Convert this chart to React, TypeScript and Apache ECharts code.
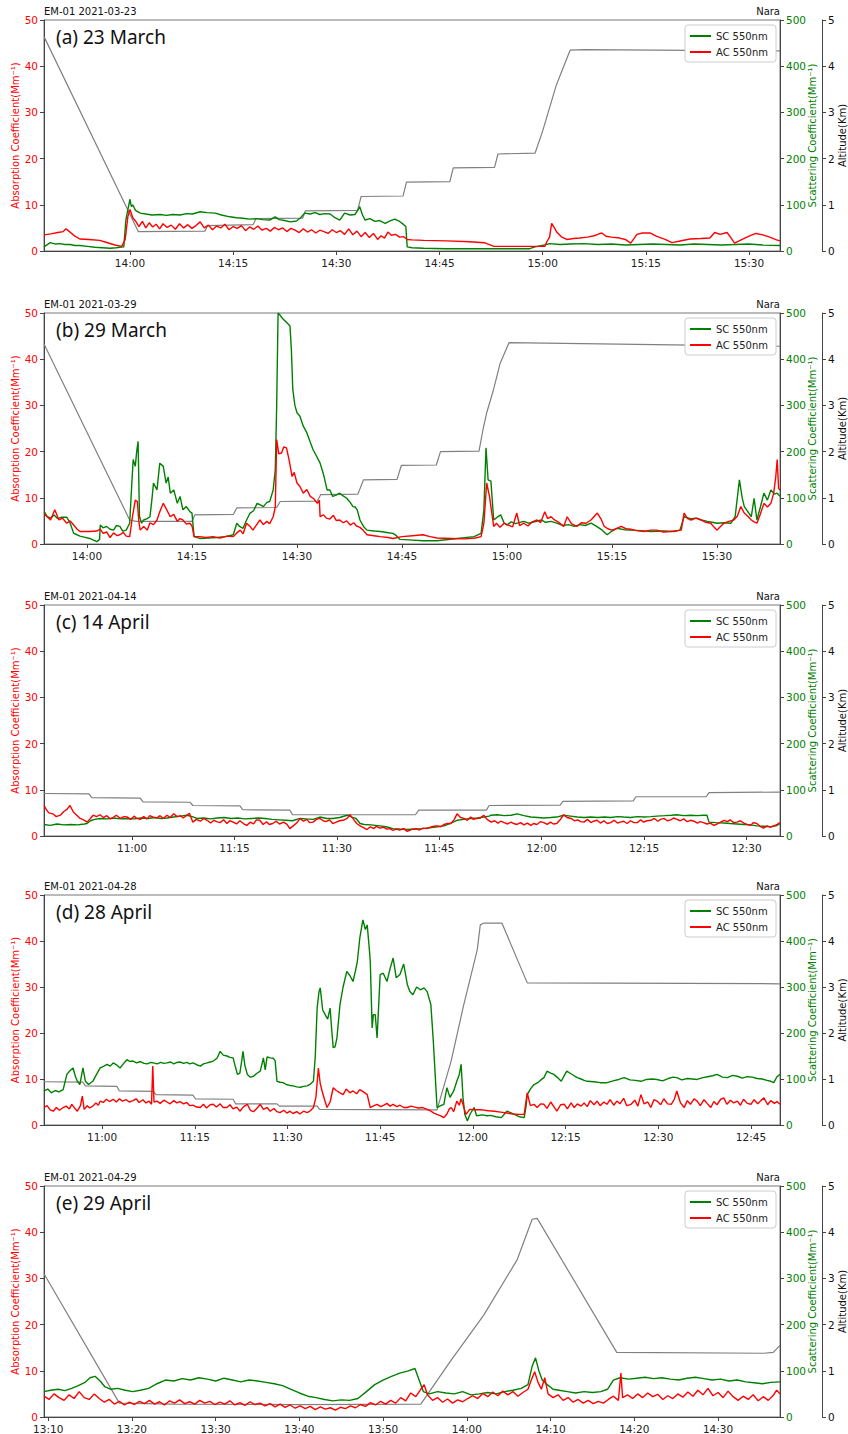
import React, { useEffect, useRef } from 'react';
import * as echarts from 'echarts';

// ---------- tick labels ----------
const aTicks = ['14:00', '14:15', '14:30', '14:45', '15:00', '15:15', '15:30'];
const bTicks = ['14:00', '14:15', '14:30', '14:45', '15:00', '15:15', '15:30'];
const cTicks = ['11:00', '11:15', '11:30', '11:45', '12:00', '12:15', '12:30'];
const dTicks = ['11:00', '11:15', '11:30', '11:45', '12:00', '12:15', '12:30', '12:45'];
const eTicks = ['13:10', '13:20', '13:30', '13:40', '13:50', '14:00', '14:10', '14:20', '14:30'];

// time spans: minutes past the base hour
const aSpan = [47.5, 154.5];
const bSpan = [53.86, 159];
const cSpan = [47.1, 154.9];
const dSpan = [50.6, 169.7];
const eSpan = [9.5, 97.4];

// ---------- panel (a) 23 March, base hour 13 ----------
const aAC = [[47.5,3.5],[48.5,3.7],[49.5,4.0],[50.3,4.2],[50.7,4.8],[51.2,4.2],[52,3.2],[52.7,2.6],[54,2.5],[55.6,2.3],[56.5,1.9],[57.8,1.3],[58.8,1.0],[59.3,2.5],[59.7,7.5],[60,9.0],[60.4,7.2],[60.8,6.5],[61.3,5.3],[61.8,6.4],[62.3,5.0],[62.8,6.1],[63.3,5.2],[63.8,5.8],[64.3,4.8],[64.8,5.9],[65.4,5.1],[66,5.6],[66.6,4.7],[67.2,5.9],[67.8,5.0],[68.4,5.7],[69,4.9],[69.6,5.5],[70.2,6.3],[70.8,5.0],[71.4,5.6],[72,4.6],[72.6,5.4],[73.2,5.0],[73.8,5.8],[74.4,4.6],[75,5.3],[75.6,4.9],[76.2,5.5],[76.8,4.4],[77.4,5.2],[78,4.7],[78.6,5.4],[79.2,4.5],[79.8,4.9],[80.4,4.3],[81,5.1],[81.6,4.6],[82.2,5.0],[82.8,4.2],[83.4,4.9],[84,4.5],[84.6,4.0],[85.2,4.8],[85.8,4.1],[86.4,4.6],[87,3.9],[87.6,4.5],[88.2,4.2],[88.8,3.8],[89.4,4.6],[90,4.0],[90.6,4.4],[91.2,3.6],[91.8,4.8],[92.4,3.5],[93,4.3],[93.6,3.1],[94.2,4.0],[94.8,2.9],[95.4,3.8],[96,2.5],[96.5,3.3],[97,2.8],[97.5,4.1],[98,3.4],[98.6,3.6],[99.2,3.0],[99.8,3.1],[100.3,2.5],[101,2.4],[102.7,2.3],[106,2.2],[109.4,2.0],[111.5,1.8],[112.9,1.0],[116,1.0],[120.3,1.0],[120.6,2.0],[121,3.0],[121.3,6.0],[121.7,5.0],[122.1,4.0],[122.8,3.0],[123.5,2.5],[124.5,2.7],[125.4,2.8],[126.5,3.0],[127.5,3.3],[128,3.6],[128.6,3.9],[129.2,3.2],[130,3.0],[131.2,2.8],[132,2.5],[132.8,1.7],[133.7,3.6],[134.5,3.9],[135.6,3.9],[136.5,3.2],[137.8,2.5],[138.8,1.8],[139.8,2.1],[141.4,2.6],[143,2.7],[144.3,2.8],[145,4.0],[145.8,3.6],[146.8,4.0],[147.3,3.0],[147.9,1.7],[149,2.5],[150,3.2],[151,3.8],[152,3.5],[153,3.0],[154,2.4],[154.5,2.2]];
const aSC = [[47.5,9],[48.4,18],[49.2,15],[49.8,16],[50.5,14],[51.3,14],[52,12],[52.7,12],[53.8,10],[54.9,8],[56,7],[57.1,6],[58,7],[58.5,8],[59.1,9],[59.4,67],[59.7,90],[60,112],[60.2,96],[60.4,100],[60.8,88],[61.5,82],[62.3,80],[63.2,78],[64.4,79],[65.3,77],[66.2,79],[67.3,78],[68.2,81],[69.1,80],[70.2,85],[71.2,83],[72.4,82],[73.3,78],[74.5,74],[75.5,72],[76.4,71],[77.4,69],[78.4,70],[79.3,68],[80.3,67],[81.1,74],[81.7,68],[82.5,66],[83.3,63],[84.2,65],[84.8,72],[85.4,82],[86.2,80],[86.9,83],[87.6,79],[88.3,81],[89.1,80],[89.8,72],[90.5,67],[91.2,82],[92,78],[92.7,79],[93.1,88],[93.4,96],[93.8,78],[94.2,67],[94.9,70],[95.6,64],[96.3,66],[97.1,60],[97.8,65],[98.5,69],[99.2,64],[99.8,57],[100.1,53],[100.3,9],[101,7],[102.7,6],[106,5],[110,5],[114,5],[118.1,5],[118.9,9],[120.3,13],[121,16],[122.5,14],[124,15],[126,16],[128,14],[130,15],[132,13],[134,14],[136,15],[138,14],[140,13],[142,15],[144,14],[146,13],[148,14],[150,15],[152,13],[154.5,12]];
const aAlt = [[47.5,4.64],[61.2,0.42],[70.9,0.43],[71.3,0.55],[77.9,0.57],[78.3,0.70],[85.1,0.71],[85.5,0.87],[93.1,0.88],[93.6,1.18],[99.7,1.19],[100.2,1.49],[106.5,1.5],[107,1.8],[113,1.81],[113.5,2.1],[118.9,2.12],[120,2.6],[122,3.6],[124,4.35],[126,4.36],[154.5,4.33]];

// ---------- panel (b) 29 March, base hour 13 ----------
const bAC = [[53.9,6.5],[54.3,5.9],[54.8,5.2],[55.4,7.4],[56,5.2],[56.5,5.6],[57.1,4.5],[57.6,5.0],[58.1,4.1],[58.6,3.2],[59,2.7],[60.4,2.7],[61.4,2.8],[61.9,3.2],[62.3,2.3],[62.8,2.6],[63.3,1.4],[63.8,2.4],[64.3,1.8],[64.7,2.0],[65.2,2.5],[65.6,1.7],[66.1,1.6],[66.5,6.0],[66.9,9.5],[67.2,9.2],[67.4,5.0],[67.6,3.0],[68.1,3.8],[68.6,3.0],[69,4.6],[69.5,4.2],[70,5.2],[70.4,7.0],[70.9,8.8],[71.4,7.4],[71.9,5.9],[72.4,6.4],[72.9,4.9],[73.3,5.5],[73.7,5.2],[74.2,4.3],[74.7,4.5],[75,3.9],[75.3,1.6],[76.1,1.6],[77,1.4],[78,1.6],[79,1.3],[80,1.7],[80.9,1.6],[81.4,2.4],[81.9,3.0],[82.3,2.2],[82.8,4.5],[83.3,3.8],[83.7,3.0],[84.2,4.1],[84.7,5.2],[85.2,4.2],[85.7,4.9],[86.1,4.4],[86.6,5.9],[86.9,8.0],[87.1,22.6],[87.4,19.5],[87.8,19.7],[88.1,21.0],[88.5,20.8],[88.9,18.0],[89.3,14.6],[89.6,15.5],[90,13.2],[90.4,12.5],[90.9,11.0],[91.4,11.8],[91.9,10.3],[92.4,9.8],[92.9,8.8],[93.2,9.5],[93.3,5.9],[93.8,6.3],[94.2,5.6],[94.7,5.4],[95.2,6.2],[95.6,5.1],[96.1,5.2],[96.6,4.6],[97.1,5.0],[97.6,4.1],[98.1,4.6],[98.5,3.9],[99,3.6],[99.5,2.9],[100,2.0],[101,1.8],[101.9,1.6],[103,1.4],[103.7,1.2],[105,1.6],[106.5,1.8],[108,2.0],[109,1.6],[110,1.3],[112,1.2],[114,1.1],[115.5,1.3],[116.3,1.6],[116.7,4.5],[117.1,13.2],[117.5,10.3],[118.1,3.8],[118.5,4.5],[119,3.6],[119.6,4.5],[120.2,4.1],[120.8,3.7],[121.4,6.7],[121.8,4.0],[122.4,4.5],[123,3.9],[123.6,4.8],[124.3,5.2],[124.8,4.6],[125.4,7.0],[125.8,5.5],[126.3,5.9],[126.8,5.2],[127.4,4.7],[128.1,3.8],[128.6,5.9],[129.2,4.4],[130,3.8],[130.6,4.6],[131.3,4.5],[132,5.2],[132.9,6.7],[133.4,5.5],[133.9,3.8],[134.4,3.3],[135,3.0],[135.7,3.4],[136.3,3.8],[137,3.3],[137.7,3.2],[138.5,2.9],[139.6,2.7],[140.5,3.0],[141.4,3.0],[142.3,2.6],[143.4,2.7],[144.3,2.9],[144.9,3.0],[145.3,6.7],[145.8,5.5],[146.3,5.2],[147,5.6],[147.7,5.2],[148.4,4.7],[149.1,4.5],[149.6,3.6],[150,3.0],[150.5,3.8],[151,4.5],[151.7,4.9],[152.4,5.2],[152.9,6.0],[153.4,8.1],[153.9,6.7],[154.4,6.0],[154.9,5.2],[155.3,4.8],[155.7,4.5],[156.2,6.5],[156.7,8.8],[157.2,8.0],[157.7,8.8],[158.1,11.0],[158.4,14.6],[158.6,18.3],[158.8,12.0],[159,11.7]];
const bSC = [[53.9,70],[54.3,60],[54.8,56],[55.3,63],[55.8,55],[56.4,58],[57.1,58],[57.6,45],[58.1,23],[58.6,20],[59,17],[59.6,15],[60.4,12],[61,8],[61.4,5],[61.8,10],[61.9,41],[62.3,35],[62.8,38],[63.3,32],[63.8,30],[64.2,40],[64.7,38],[65.1,28],[65.6,30],[66.1,45],[66.4,130],[66.6,183],[66.9,168],[67.1,200],[67.3,222],[67.5,60],[67.8,45],[68.1,52],[68.6,55],[69,59],[69.3,100],[69.5,132],[70,117],[70.4,175],[70.9,168],[71.3,132],[71.6,145],[71.9,110],[72.4,117],[72.9,88],[73.3,103],[73.7,74],[74.2,81],[74.7,70],[75,67],[75.3,16],[76.1,12],[77.3,13],[78.6,14],[79.8,16],[80.9,20],[81.4,45],[81.8,38],[82.3,34],[82.8,52],[83.3,67],[83.8,72],[84.3,88],[84.7,85],[85.2,81],[85.7,90],[86.1,92],[86.6,117],[86.9,161],[87.1,300],[87.3,500],[87.6,495],[88,487],[88.5,480],[89,472],[89.2,420],[89.4,335],[89.7,300],[90,284],[90.4,277],[90.9,255],[91.4,241],[91.9,220],[92.3,204],[92.8,190],[93.3,175],[93.8,150],[94.3,117],[94.7,117],[95.1,103],[95.6,106],[96.1,110],[96.6,104],[97.1,99],[97.6,90],[98,81],[98.3,80],[98.6,74],[99,52],[99.5,38],[100,30],[101,28],[101.9,27],[102.8,25],[103.7,23],[104.2,18],[104.7,10],[106,9],[108,7],[110,7],[112.9,12],[115.3,16],[116.3,23],[116.7,74],[117,208],[117.3,139],[117.7,136],[118.1,52],[118.6,58],[119.1,63],[119.6,45],[120,41],[120.6,48],[121.2,44],[122.4,49],[123.1,45],[124.9,52],[125.5,47],[126.3,49],[127.1,45],[128,40],[128.8,42],[129.6,38],[130.4,42],[131.2,40],[132,45],[132.8,38],[133.6,30],[134.3,20],[135,28],[135.7,34],[136.7,31],[137.7,30],[139.1,29],[140.6,27],[142.3,28],[143.9,27],[144.7,30],[145.3,59],[146.2,55],[147.1,56],[147.8,52],[148.6,49],[149.3,47],[150,45],[151,46],[152,45],[152.6,60],[153.2,139],[153.6,100],[153.9,81],[154.4,70],[154.9,59],[155.3,99],[155.7,52],[156.2,80],[156.7,110],[157.2,95],[157.7,117],[158.2,108],[158.6,110],[159,103]];
const bAlt = [[53.86,4.33],[66.1,0.52],[67,0.49],[75,0.49],[75.4,0.63],[80.9,0.64],[81.4,0.78],[87.1,0.79],[87.6,0.92],[92.9,0.93],[93.4,1.07],[98.7,1.08],[99.5,1.39],[104.3,1.4],[104.9,1.70],[109.9,1.71],[110.5,2.0],[116,2.01],[116.6,2.5],[117.1,2.84],[118,3.3],[119,3.9],[120.3,4.36],[159,4.28]];

// ---------- panel (c) 14 April, base hour 10 ----------
const cAC = [[47.1,6.6],[47.4,5.8],[47.8,5.0],[48.4,4.8],[48.9,4.2],[49.5,4.5],[50,5.3],[50.5,5.8],[50.9,6.6],[51.4,5.2],[51.9,4.5],[52.4,3.8],[52.9,3.5],[53.4,3.0],[53.9,3.8],[54.3,4.5],[54.8,4.2],[55.3,4.6],[55.8,4.0],[56.3,4.4],[56.8,3.7],[57.2,4.0],[57.7,4.5],[58.3,3.8],[58.8,4.2],[59.3,4.1],[59.8,3.6],[60.3,4.3],[60.7,3.8],[61.2,3.6],[61.7,4.2],[62.2,3.7],[62.6,4.4],[63.1,4.1],[63.6,3.9],[64.1,4.4],[64.6,3.8],[65.1,4.5],[65.6,4.0],[66.1,4.8],[66.6,4.2],[67.1,4.4],[67.5,3.9],[68,4.5],[68.4,4.9],[68.9,3.0],[69.4,3.6],[70,3.2],[70.5,3.8],[71,3.4],[71.5,2.8],[72,3.4],[72.4,3.1],[72.9,2.9],[73.4,3.5],[73.9,2.7],[74.3,3.3],[74.8,3.0],[75.3,2.6],[75.8,3.3],[76.3,2.7],[76.8,2.3],[77.3,3.0],[77.8,2.6],[78.2,3.5],[78.7,3.4],[79.2,2.5],[79.7,3.1],[80.1,2.5],[80.6,2.7],[81.1,3.2],[81.6,2.6],[82.2,3.0],[82.7,2.5],[83.1,1.6],[83.6,2.2],[84.1,2.8],[84.6,3.8],[85.1,3.2],[85.6,3.6],[86,2.9],[86.5,3.0],[87,3.6],[87.5,3.8],[88,3.3],[88.4,3.1],[88.9,3.5],[89.4,2.7],[89.9,3.0],[90.4,3.3],[90.9,3.4],[91.5,3.8],[91.9,4.6],[92.4,3.7],[92.9,2.7],[93.4,2.2],[93.9,1.8],[94.4,1.4],[94.9,2.0],[95.4,1.6],[95.8,2.1],[96.3,1.7],[96.8,1.9],[97.3,1.5],[97.8,1.6],[98.2,1.2],[98.7,1.5],[99.2,1.3],[99.8,1.6],[100.3,1.0],[100.9,1.4],[101.5,1.6],[102.1,1.3],[102.6,1.7],[103.2,1.6],[103.7,1.9],[104.2,2.1],[104.7,2.2],[105.2,2.0],[105.7,2.5],[106.2,2.7],[106.7,2.7],[107.2,3.6],[107.6,4.8],[108.1,4.0],[108.6,3.8],[109.1,3.4],[109.6,4.1],[110,3.6],[110.5,3.8],[111,3.9],[111.5,4.5],[112,3.6],[112.6,3.0],[113.1,3.3],[113.6,2.8],[114,3.2],[114.5,2.9],[115,2.6],[115.5,3.0],[115.9,2.7],[116.4,2.5],[116.9,2.9],[117.4,2.4],[117.9,2.8],[118.4,2.3],[118.8,2.7],[119.3,2.5],[119.8,3.1],[120.3,2.9],[120.8,2.5],[121.3,3.0],[121.7,2.6],[122.2,2.7],[122.7,3.5],[123.2,4.6],[123.7,4.0],[124.3,3.8],[124.8,3.3],[125.3,3.5],[125.7,3.1],[126.2,3.0],[126.7,3.6],[127.2,2.9],[127.6,3.2],[128.1,3.4],[128.6,2.8],[129.1,3.3],[129.6,2.7],[130.1,2.9],[130.6,3.4],[131.1,2.8],[131.5,3.0],[132,3.2],[132.5,2.7],[133,3.3],[133.5,2.9],[134,2.9],[134.5,3.5],[134.9,3.0],[135.4,3.3],[136,3.4],[136.5,3.8],[137,3.2],[137.4,3.6],[137.9,3.8],[138.4,3.3],[138.9,3.5],[139.3,3.9],[139.8,3.6],[140.3,3.3],[140.8,3.7],[141.3,3.1],[141.8,3.4],[142.3,3.2],[142.8,2.8],[143.2,3.1],[143.7,2.9],[144.2,2.6],[144.7,2.8],[145.2,2.3],[145.7,2.6],[146.2,3.0],[146.7,3.4],[147.2,3.1],[147.6,3.5],[148.1,2.9],[148.6,3.0],[149.1,3.3],[149.6,2.8],[150.1,2.5],[150.6,2.3],[151,2.9],[151.5,2.7],[152,2.1],[152.5,1.7],[153,2.2],[153.5,1.9],[154,2.2],[154.5,2.5],[154.9,2.9]];
const cSC = [[47.1,25],[48,23],[49,26],[50,24],[51,25],[52,24],[53,26],[53.4,27],[53.9,33],[54.5,36],[55.3,38],[56.3,37],[57.3,39],[58.3,37],[59.3,38],[60.3,37],[61.3,39],[62.3,38],[63.3,40],[64.3,38],[65.1,39],[66.1,41],[67.1,43],[68,45],[68.8,42],[69.5,38],[70.5,39],[71.5,37],[72.5,39],[73.5,40],[74.5,38],[75.5,39],[76.5,37],[77.5,38],[78.5,39],[79.5,38],[80.5,36],[81.5,35],[82.5,34],[83.5,33],[84.6,38],[85.5,37],[86.5,36],[87.5,41],[88.5,38],[89.4,38],[90.4,40],[91.5,45],[92.2,41],[92.8,38],[93.4,27],[94,25],[95,24],[96.3,22],[97.2,20],[98.2,16],[99.2,15],[100.3,14],[101.5,15],[102.6,16],[103.6,18],[104.7,20],[105.7,22],[106.7,28],[107.6,34],[108.6,36],[109.6,38],[110.6,39],[111.5,41],[112.3,43],[112.6,45],[113.5,46],[114.5,44],[115.5,45],[116.4,48],[117.4,44],[118.4,41],[119.4,40],[120.3,39],[121.3,40],[122.2,41],[123.2,45],[124.2,43],[125.2,41],[126.2,40],[127.2,41],[128.2,40],[129.2,41],[130.1,40],[131.1,42],[132,41],[133,40],[134,42],[135,41],[136,42],[136.9,43],[138,44],[139,45],[139.8,46],[140.8,44],[141.8,45],[142.8,44],[143.7,45],[144.2,45],[144.5,30],[145.5,29],[146.7,28],[147.6,27],[148.6,26],[149.6,25],[150.6,24],[151.5,22],[152.5,21],[153.5,20],[154.3,22],[154.9,27]];
const cAlt = [[47.1,0.92],[53.7,0.91],[54.1,0.83],[61.2,0.82],[61.6,0.74],[68.5,0.73],[68.9,0.66],[75.8,0.65],[76.2,0.57],[83.1,0.56],[83.5,0.46],[101.5,0.46],[102,0.56],[111.9,0.56],[112.3,0.66],[122.7,0.67],[123.1,0.75],[133.4,0.76],[133.8,0.85],[144.1,0.85],[144.5,0.94],[154.9,0.95]];

// ---------- panel (d) 28 April, base hour 10 ----------
const dAC = [[50.6,3.8],[51.1,4.2],[51.6,3.3],[52.1,3.0],[52.6,3.8],[53.1,3.2],[53.7,3.8],[54.2,4.1],[54.7,3.5],[55.1,4.5],[55.6,3.6],[56,3.0],[56.5,4.2],[56.8,6.3],[57.1,3.4],[57.6,4.2],[58,3.7],[58.5,4.1],[59,4.8],[59.4,4.3],[59.7,5.2],[60.2,4.9],[60.7,5.6],[61.2,5.1],[61.8,5.6],[62.3,5.0],[62.8,5.7],[63.3,5.2],[63.9,5.5],[64.4,5.0],[65,5.3],[65.5,5.7],[66,4.9],[66.6,5.5],[67.1,4.8],[67.6,5.2],[68,4.5],[68.2,12.8],[68.4,5.0],[68.9,5.2],[69.4,4.7],[70,5.4],[70.5,5.0],[71,4.6],[71.6,5.3],[72.1,4.8],[72.6,5.1],[73.2,4.6],[73.7,4.9],[74.2,4.2],[74.7,4.3],[75.3,3.9],[75.9,3.8],[76.4,4.5],[76.9,3.7],[77.5,4.4],[78,4.5],[78.5,3.9],[79.1,4.6],[79.6,3.8],[80.2,3.8],[80.7,4.4],[81.2,3.5],[81.8,3.9],[82.3,3.0],[82.9,4.0],[83.5,4.5],[84,3.2],[84.5,2.9],[85.1,3.7],[85.6,4.5],[86.1,3.4],[86.7,3.8],[87.2,3.0],[87.8,3.6],[88.3,2.9],[88.8,2.7],[89.4,3.2],[89.9,2.6],[90.4,3.0],[90.9,2.5],[91.5,2.9],[92,2.4],[92.6,3.0],[93.2,2.7],[93.7,3.1],[94.2,3.8],[94.6,6.0],[95,12.4],[95.3,9.0],[95.6,7.4],[96,5.5],[96.4,3.8],[96.9,5.0],[97.4,8.1],[97.9,7.5],[98.5,7.0],[99,6.6],[99.5,7.8],[100.1,7.0],[100.6,7.4],[101.2,6.8],[101.7,7.7],[102.3,7.2],[102.9,6.6],[103.4,3.8],[104,4.2],[104.5,4.5],[105.1,4.0],[105.6,4.3],[106.1,4.7],[106.6,4.1],[107.1,4.5],[107.7,4.0],[108.2,4.3],[108.8,3.8],[109.4,3.8],[110,4.1],[110.6,3.9],[111.2,3.7],[111.9,3.8],[112.6,3.4],[113.2,3.0],[113.7,2.6],[114.2,2.3],[114.8,2.0],[115.3,1.6],[115.8,2.4],[116.2,3.5],[116.5,3.8],[116.9,2.9],[117.4,5.2],[117.8,4.3],[118.1,5.7],[118.4,4.5],[118.6,3.5],[118.9,2.3],[119.5,3.4],[120.5,3.3],[121.5,3.3],[122.5,3.1],[123.5,3.0],[124.5,2.8],[125.5,2.6],[126.5,2.4],[127.5,2.3],[128.3,2.3],[128.8,7.0],[129.3,4.2],[129.9,4.5],[130.4,3.8],[131,4.6],[131.5,4.5],[132,3.6],[132.6,5.0],[133.1,4.0],[133.6,3.0],[134.2,4.4],[134.8,4.5],[135.3,3.5],[135.9,4.8],[136.4,3.8],[136.9,4.6],[137.5,4.1],[138,4.8],[138.5,4.0],[139,5.3],[139.6,4.4],[140.1,5.2],[140.6,4.2],[141.2,5.0],[141.7,4.5],[142.2,5.5],[142.8,4.3],[143.3,5.2],[143.8,4.6],[144.4,5.8],[144.9,4.2],[145.6,4.5],[146.2,5.4],[146.7,4.1],[147.2,6.6],[147.7,4.6],[148.3,5.0],[148.8,3.8],[149.3,5.5],[149.8,5.2],[150.4,4.4],[150.9,5.7],[151.5,4.6],[152.1,4.5],[152.6,5.6],[153,7.4],[153.6,4.8],[154.2,3.8],[154.7,5.3],[155.2,4.5],[155.8,5.7],[156.3,5.2],[156.8,4.2],[157.4,5.5],[157.9,4.7],[158.5,3.8],[159,5.1],[159.5,4.4],[160.1,5.6],[160.6,5.9],[161.1,4.5],[161.7,5.4],[162.2,4.8],[162.8,5.2],[163.3,4.3],[163.8,5.6],[164.4,4.7],[165,4.5],[165.5,5.5],[166.1,4.6],[166.6,5.3],[167.1,5.9],[167.7,4.4],[168.2,5.3],[168.8,4.7],[169.2,5.1],[169.7,4.5]];
const dSC = [[50.6,74],[51.2,78],[51.8,70],[52.4,75],[53,72],[53.7,77],[54.3,110],[54.8,118],[55.3,124],[55.7,105],[56,95],[56.4,88],[56.9,124],[57.3,95],[57.8,88],[58.5,95],[59.1,110],[59.7,124],[60.3,128],[60.8,132],[61.3,128],[61.8,135],[62.4,130],[62.9,124],[63.5,134],[64,142],[64.5,138],[65,139],[65.6,135],[66.2,138],[66.8,134],[67.3,133],[67.9,136],[68.3,135],[68.9,133],[69.5,136],[70,134],[70.5,135],[71.1,137],[71.6,133],[72.1,136],[72.6,137],[73.2,134],[73.7,136],[74.2,133],[74.7,135],[75.3,131],[75.9,128],[76.4,133],[77,135],[77.5,137],[78,139],[78.6,145],[79.1,160],[79.6,152],[80.2,150],[80.7,147],[81.2,146],[81.5,130],[81.9,110],[82.3,113],[82.6,140],[82.8,160],[83.1,130],[83.5,110],[84,104],[84.5,106],[85,112],[85.6,117],[86.1,146],[86.4,120],[86.7,148],[87.2,146],[87.7,145],[88,140],[88.3,95],[88.8,93],[89.3,92],[89.8,88],[90.4,86],[90.9,85],[91.5,83],[92.1,82],[92.6,84],[93.2,85],[93.7,89],[94.2,95],[94.5,150],[94.8,254],[95.1,290],[95.3,298],[95.7,250],[96.1,240],[96.5,230],[96.9,254],[97.2,200],[97.4,168],[97.7,170],[98,189],[98.5,262],[99,300],[99.6,334],[100.1,325],[100.6,312],[101,335],[101.3,355],[101.7,406],[102.2,446],[102.6,425],[102.9,435],[103.2,390],[103.4,355],[103.7,211],[103.9,240],[104.2,240],[104.5,189],[105,327],[105.5,330],[106.1,312],[106.6,340],[107.1,363],[107.6,320],[108.2,327],[108.8,350],[109.4,305],[109.8,290],[110.3,283],[110.9,300],[111.5,294],[112.1,298],[112.6,290],[113.2,262],[113.6,182],[114.2,38],[114.8,42],[115.3,45],[115.8,81],[116.3,60],[116.9,74],[117.4,95],[117.8,110],[118.1,132],[118.4,60],[118.7,23],[119.1,9],[119.6,25],[120.2,38],[120.6,20],[121.5,22],[122.3,20],[122.9,21],[123.7,18],[124.6,16],[125.5,30],[126.1,27],[126.7,23],[127.5,18],[128.3,16],[128.6,40],[128.8,66],[129.3,78],[129.9,88],[130.5,92],[131,98],[131.5,103],[132,117],[132.6,113],[133.1,110],[133.7,103],[134.3,95],[134.8,108],[135.2,117],[135.8,112],[136.4,107],[136.9,103],[137.5,100],[138,97],[138.5,95],[139.6,94],[140.6,92],[141.7,92],[142.7,96],[143.6,99],[144.5,103],[145.4,98],[146.3,97],[147.2,95],[148.1,99],[149,100],[149.8,99],[150.7,96],[151.6,101],[152.4,104],[153,103],[153.8,98],[154.7,101],[155.5,100],[156.3,99],[157.2,103],[158,105],[158.8,107],[159.5,110],[160.4,104],[161.2,103],[162,108],[162.8,106],[163.6,102],[164.4,105],[165.2,104],[166,101],[166.8,100],[167.6,97],[168.2,95],[168.7,92],[169.2,105],[169.7,110]];
const dAlt = [[50.6,0.94],[56.9,0.93],[57.3,0.85],[62.4,0.84],[62.8,0.74],[68.3,0.73],[68.7,0.66],[74.7,0.65],[75.1,0.57],[81.2,0.56],[81.6,0.46],[88.3,0.46],[88.7,0.41],[94.8,0.41],[95.2,0.34],[114.2,0.33],[116.5,1.4],[118.5,2.6],[120.7,3.8],[121.2,4.35],[121.8,4.39],[124.7,4.39],[128.8,3.09],[169.7,3.07]];

// ---------- panel (e) 29 April, base hour 13 ----------
const eAC = [[9.5,4.5],[10.1,3.8],[10.7,5.0],[11.3,4.2],[11.9,3.6],[12.5,4.8],[13.1,4.0],[13.7,5.5],[14.3,4.2],[14.9,3.8],[15.5,5.0],[16.1,4.0],[16.7,3.2],[17.3,3.8],[17.9,2.8],[18.5,3.4],[19.1,2.6],[19.7,3.2],[20.3,2.7],[20.9,3.4],[21.5,2.9],[22.1,3.6],[22.7,2.8],[23.3,3.3],[23.9,2.6],[24.5,3.5],[25.1,3.0],[25.7,3.7],[26.3,2.9],[26.9,3.3],[27.5,2.8],[28.1,3.6],[28.7,3.0],[29.3,3.4],[29.9,2.7],[30.5,3.2],[31.1,2.8],[31.7,3.5],[32.3,2.6],[32.9,3.1],[33.5,2.5],[34.1,3.3],[34.7,2.7],[35.3,3.0],[35.9,2.4],[36.5,2.9],[37.1,2.2],[37.7,2.8],[38.3,2.1],[38.9,2.6],[39.5,1.9],[40.1,2.4],[40.7,1.8],[41.3,2.3],[41.9,1.6],[42.5,2.2],[43.1,1.7],[43.7,2.0],[44.3,1.5],[44.9,2.1],[45.5,1.8],[46.1,2.4],[46.7,2.0],[47.3,2.7],[47.9,2.3],[48.5,3.1],[49.1,2.6],[49.7,3.4],[50.3,2.8],[50.9,3.6],[51.5,3.0],[52.1,4.2],[52.7,3.5],[53.3,5.2],[53.9,4.4],[54.5,6.0],[54.9,7.0],[55.3,4.8],[55.9,3.6],[56.5,4.2],[57.1,3.2],[57.7,3.9],[58.3,3.0],[58.9,3.7],[59.5,3.3],[60.1,4.0],[60.7,4.6],[61.3,4.0],[61.9,5.1],[62.5,4.4],[63.1,5.4],[63.7,4.6],[64.3,5.6],[64.9,4.8],[65.5,5.5],[66.1,4.5],[66.7,5.3],[67.3,6.0],[67.7,8.0],[68.1,9.8],[68.5,7.5],[68.9,6.0],[69.3,8.5],[69.7,5.0],[70.3,4.2],[70.9,4.8],[71.5,3.6],[72.1,4.2],[72.7,3.2],[73.3,3.8],[73.9,3.0],[74.5,3.6],[75.1,2.9],[75.7,3.4],[76.3,3.0],[76.9,3.8],[77.5,4.5],[78.1,3.6],[78.4,9.5],[78.6,4.2],[79.2,4.8],[79.8,4.0],[80.4,5.0],[81,4.2],[81.6,5.2],[82.2,4.4],[82.8,4.9],[83.4,3.8],[84,4.6],[84.6,4.0],[85.2,5.0],[85.8,4.3],[86.4,5.4],[87,4.5],[87.6,5.8],[88.2,4.8],[88.8,6.2],[89.4,4.6],[90,5.3],[90.6,4.2],[91.2,5.6],[91.8,4.4],[92.4,3.6],[93,4.5],[93.6,3.8],[94.2,4.8],[94.8,3.5],[95.4,4.4],[96,3.6],[96.6,4.7],[97,5.8],[97.4,5.0]];
const eSC = [[9.5,55],[10.3,58],[11.2,60],[12,57],[12.8,62],[13.6,68],[14.4,75],[15,85],[15.6,88],[16.2,78],[16.8,65],[17.5,60],[18.3,62],[19.2,58],[20.1,55],[21,58],[22,62],[23,72],[24,80],[25,78],[26,83],[27,80],[28,85],[29,82],[30,78],[31,84],[32,80],[33,76],[34,80],[35,78],[36,75],[37,72],[38,68],[39,60],[40,52],[41,45],[42,42],[43,38],[44,35],[45,37],[46,36],[47,40],[48,55],[49,70],[50,80],[51,88],[52,95],[53,100],[53.8,105],[54.3,80],[54.8,55],[55.5,50],[56.5,55],[57.5,52],[58.5,50],[59.5,55],[60.5,48],[61.5,50],[62.5,53],[63.5,50],[64.5,55],[65.5,58],[66.5,62],[67.3,70],[67.8,110],[68.2,128],[68.6,100],[69,80],[69.6,70],[70.3,60],[71,58],[72,55],[73,52],[74,55],[75,53],[76,55],[76.8,60],[77.5,80],[78.3,85],[79.3,82],[80.3,84],[81.3,86],[82.3,83],[83.3,85],[84.3,82],[85.3,80],[86.3,84],[87.3,86],[88.3,83],[89.3,80],[90.3,82],[91.3,78],[92.3,80],[93.3,76],[94.3,74],[95.3,72],[96.3,75],[97.4,76]];
const eAlt = [[9.5,3.1],[18.5,0.3],[25,0.28],[40,0.27],[54.5,0.28],[58,1.2],[62,2.2],[66,3.4],[67.8,4.28],[68.4,4.3],[77.9,1.4],[95.5,1.38],[96.6,1.4],[97.4,1.55]];

// ---------- styling ----------
const FONT = "'DejaVu Sans', sans-serif";
const RED = '#ff0000';
const GREEN = '#008000';
const GRAY = '#808080';
const AXIS = '#444444';

const panels = [
  { date: '2021-03-23', label: '(a) 23 March', base: 13, span: aSpan, ticks: aTicks, sc: aSC, ac: aAC, alt: aAlt, top: 20, h: 231 },
  { date: '2021-03-29', label: '(b) 29 March', base: 13, span: bSpan, ticks: bTicks, sc: bSC, ac: bAC, alt: bAlt, top: 313, h: 231 },
  { date: '2021-04-14', label: '(c) 14 April', base: 10, span: cSpan, ticks: cTicks, sc: cSC, ac: cAC, alt: cAlt, top: 605, h: 231 },
  { date: '2021-04-28', label: '(d) 28 April', base: 10, span: dSpan, ticks: dTicks, sc: dSC, ac: dAC, alt: dAlt, top: 895, h: 230 },
  { date: '2021-04-29', label: '(e) 29 April', base: 13, span: eSpan, ticks: eTicks, sc: eSC, ac: eAC, alt: eAlt, top: 1186, h: 231 },
];

const toMin = (s: string) => {
  const [h, m] = s.split(':').map(Number);
  return h * 60 + m;
};
const fmt = (v: number) => {
  const r = Math.round(v);
  const h = Math.floor(r / 60);
  const m = r - h * 60;
  return `${h}:${String(m).padStart(2, '0')}`;
};

function buildOption() {
  const grid: any[] = [];
  const xAxis: any[] = [];
  const yAxis: any[] = [];
  const series: any[] = [];
  const title: any[] = [];
  const legend: any[] = [];

  panels.forEach((p, i) => {
    const shift = (arr: number[][]) => arr.map(([t, v]) => [p.base * 60 + t, v]);
    const ticks = p.ticks.map(toMin);
    grid.push({
      left: 44, right: 68, top: p.top, height: p.h, show: true,
      borderColor: '#777', borderWidth: 1, backgroundColor: 'transparent',
      containLabel: false, outerBoundsMode: 'none',
    });
    xAxis.push({
      type: 'value', gridIndex: i,
      min: p.base * 60 + p.span[0], max: p.base * 60 + p.span[1],
      axisLine: { show: true, onZero: false, lineStyle: { color: AXIS } },
      axisTick: { show: true, length: 4, customValues: ticks, lineStyle: { color: AXIS } },
      axisLabel: { customValues: ticks, formatter: (v: number) => fmt(v), fontSize: 10.5, color: '#222', margin: 6, fontFamily: FONT },
      splitLine: { show: false },
    });
    yAxis.push({
      type: 'value', gridIndex: i, position: 'left', min: 0, max: 50, interval: 10,
      name: 'Absorption Coefficient(Mm⁻¹)', nameLocation: 'middle', nameGap: 24, nameRotate: 90, nameMoveOverlap: false,
      nameTextStyle: { color: RED, fontSize: 10, fontFamily: FONT },
      axisLine: { show: true, lineStyle: { color: AXIS } },
      axisTick: { show: true, length: 4, lineStyle: { color: AXIS } },
      axisLabel: { color: RED, fontSize: 10.5, margin: 6, fontFamily: FONT },
      splitLine: { show: false },
    });
    yAxis.push({
      type: 'value', gridIndex: i, position: 'right', offset: 0, min: 0, max: 500, interval: 100,
      name: 'Scattering Coefficient(Mm⁻¹)', nameLocation: 'middle', nameGap: 27, nameRotate: 90, nameMoveOverlap: false,
      nameTextStyle: { color: GREEN, fontSize: 10, fontFamily: FONT },
      axisLine: { show: true, lineStyle: { color: AXIS } },
      axisTick: { show: true, length: 4, lineStyle: { color: AXIS } },
      axisLabel: { color: GREEN, fontSize: 10.5, margin: 6, fontFamily: FONT },
      splitLine: { show: false },
    });
    yAxis.push({
      type: 'value', gridIndex: i, position: 'right', offset: 42, min: 0, max: 5, interval: 1,
      name: 'Altitude(Km)', nameLocation: 'middle', nameGap: 15, nameRotate: 90, nameMoveOverlap: false,
      nameTextStyle: { color: '#111', fontSize: 10, fontFamily: FONT },
      axisLine: { show: true, lineStyle: { color: AXIS } },
      axisTick: { show: true, length: 4, lineStyle: { color: AXIS } },
      axisLabel: { color: '#111', fontSize: 10.5, margin: 6, fontFamily: FONT },
      splitLine: { show: false },
    });
    const common = { type: 'line', xAxisIndex: i, showSymbol: false, symbol: 'none', silent: true, animation: false };
    series.push({ ...common, name: 'Altitude', yAxisIndex: i * 3 + 2, data: shift(p.alt), color: GRAY, lineStyle: { color: GRAY, width: 1.2 } });
    series.push({ ...common, name: 'SC 550nm', yAxisIndex: i * 3 + 1, data: shift(p.sc), color: GREEN, lineStyle: { color: GREEN, width: 1.4 } });
    series.push({ ...common, name: 'AC 550nm', yAxisIndex: i * 3, data: shift(p.ac), color: RED, lineStyle: { color: RED, width: 1.4 } });

    title.push({ text: `EM-01 ${p.date}`, left: 44, top: p.top - 14, padding: 0, textStyle: { fontSize: 10, fontWeight: 'normal', color: '#111', fontFamily: FONT } });
    title.push({ text: 'Nara', right: 68, top: p.top - 14, padding: 0, textStyle: { fontSize: 10, fontWeight: 'normal', color: '#111', fontFamily: FONT } });
    title.push({ text: p.label, left: 56, top: p.top + 7, padding: 0, textStyle: { fontSize: 19, fontWeight: 'normal', color: '#111', fontFamily: "'Noto Sans', sans-serif" } });

    legend.push({
      top: p.top + 5, right: 72, orient: 'vertical', data: ['SC 550nm', 'AC 550nm'],
      icon: 'rect', itemWidth: 21, itemHeight: 2, itemGap: 6,
      borderColor: '#cccccc', borderWidth: 1, borderRadius: 3, padding: [6, 8, 5, 5],
      backgroundColor: '#ffffff', selectedMode: false,
      textStyle: { fontSize: 10, color: '#222', fontFamily: FONT },
    });
  });

  return { animation: false, backgroundColor: '#ffffff', grid, xAxis, yAxis, series, title, legend };
}

export default function App() {
  const ref = useRef<HTMLDivElement>(null);
  useEffect(() => {
    if (!ref.current) return;
    const chart = echarts.init(ref.current, null, { renderer: 'svg' });
    chart.setOption(buildOption() as any);
    return () => chart.dispose();
  }, []);
  return <div ref={ref} style={{ position: 'absolute', left: 0, top: 0, width: 848, height: 1434, background: '#fff' }} />;
}
